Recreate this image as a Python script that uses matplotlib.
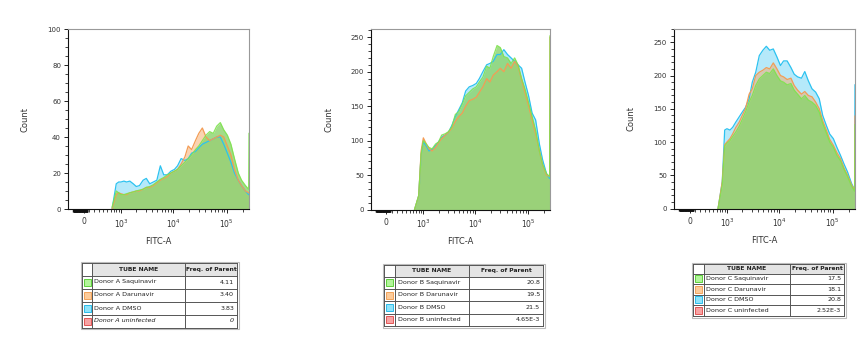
import numpy as np
import matplotlib
matplotlib.use("Agg")
import matplotlib.pyplot as plt
from matplotlib.patches import Rectangle
from matplotlib.ticker import FixedLocator, NullFormatter, MultipleLocator

plt.rcParams['font.family'] = ['DejaVu Sans']

# ---------------- data ----------------
x_fitc = [650, 800, 900, 1000, 1150, 1300, 1500, 1750, 2000, 2300, 2700, 3100, 3600, 4200,
          4900, 5700, 6600, 7700, 9000, 10500, 12000, 14000, 16500, 19000, 22000, 26000,
          30000, 35000, 41000, 48000, 56000, 65000, 76000, 88000, 103000, 120000, 140000,
          165000, 190000, 225000, 258000, 262143]

a_saq = [1, 10, 9, 8, 8, 8.5, 9, 9.5, 10, 10.5, 11, 12, 12.5, 13.5, 15, 16.5, 17.5, 19, 20, 21,
         22, 24, 26, 28, 30, 33, 35, 38, 41, 43, 42, 46, 48, 44, 41, 36, 28, 20, 16, 13, 11, 42]
a_dmso = [0, 14, 15, 15, 15.5, 15, 15.5, 14, 12.5, 13, 16, 17, 14, 15, 16, 24, 19, 19, 21, 22,
          24, 28, 27, 28, 31, 32, 34, 36, 37, 38, 39, 40, 40, 36, 31, 26, 20, 16, 13, 10, 8, 8]
a_daru = [0, 8, 9, 8.5, 8, 8, 9, 9.5, 10, 10, 11, 12, 12, 13, 14.5, 16, 17, 18, 20, 21,
          22, 25, 29, 35, 33, 38, 42, 45, 40, 38, 39, 40, 41, 40, 35, 30, 22, 16, 13, 10, 9, 9]

b_saq = [0, 20, 80, 100, 95, 90, 88, 95, 98, 108, 110, 113, 120, 138, 142, 153, 165, 170, 175, 178,
         185, 192, 208, 205, 222, 238, 235, 222, 220, 212, 220, 210, 190, 175, 155, 135, 115, 85, 65, 52, 48, 252]
b_dmso = [0, 20, 80, 98, 92, 85, 87, 93, 98, 105, 108, 112, 122, 135, 145, 155, 172, 178, 180, 183,
          190, 200, 210, 212, 215, 225, 225, 232, 225, 220, 215, 210, 205, 185, 165, 140, 130, 95, 72, 52, 45, 45]
b_daru = [0, 20, 85, 104, 95, 88, 85, 90, 97, 103, 108, 112, 118, 128, 135, 140, 150, 158, 160, 163,
          170, 178, 190, 185, 195, 200, 205, 200, 212, 205, 215, 208, 188, 170, 150, 130, 110, 85, 65, 50, 48, 250]

c_saq = [0, 35, 94, 98, 102, 108, 115, 124, 134, 145, 160, 170, 185, 195, 200, 205, 203, 210, 200, 192,
         190, 186, 188, 178, 172, 165, 170, 163, 160, 155, 145, 128, 114, 100, 92, 80, 72, 58, 48, 34, 26, 126]
c_dmso = [0, 40, 118, 120, 118, 122, 130, 138, 145, 152, 165, 190, 205, 230, 238, 244, 238, 240, 228, 215,
          222, 222, 212, 202, 198, 196, 206, 192, 180, 175, 165, 140, 125, 112, 105, 92, 80, 66, 55, 38, 28, 186]
c_daru = [0, 40, 96, 100, 105, 112, 122, 130, 140, 150, 172, 180, 200, 205, 208, 212, 210, 219, 210, 200,
          198, 194, 196, 185, 178, 172, 176, 170, 168, 160, 150, 132, 118, 104, 95, 84, 75, 60, 50, 36, 28, 139]

y_max = [100, 262, 270]
y_major = [20, 50, 50]
y_minor = [5, 10, 10]

tube_names = [
    ["Donor A Saquinavir", "Donor A Darunavir", "Donor A DMSO", "Donor A uninfected"],
    ["Donor B Saquinavir", "Donor B Darunavir", "Donor B DMSO", "Donor B uninfected"],
    ["Donor C Saquinavir", "Donor C Darunavir", "Donor C DMSO", "Donor C uninfected"],
]
freq_parent = [
    ["4.11", "3.40", "3.83", "0"],
    ["20.8", "19.5", "21.5", "4.65E-3"],
    ["17.5", "18.1", "20.8", "2.52E-3"],
]

panels = [(a_dmso, a_daru, a_saq), (b_dmso, b_daru, b_saq), (c_dmso, c_daru, c_saq)]

# ---------------- styles ----------------
W, H = 858, 340
fig = plt.figure(figsize=(W / 100, H / 100), dpi=100)

axes_px = [(68, 29, 249, 209), (371, 29, 550, 209.5), (674, 29, 855, 208.5)]

C = 415.0
def fwd(x):
    return np.arcsinh(np.asarray(x, dtype=float) / C) / np.log(10)
def inv(y):
    return np.sinh(np.asarray(y, dtype=float) * np.log(10)) * C

blue_f, blue_l = '#5ccff5', '#2cc2f0'
orng_f, orng_l = '#f7a965', '#f39c55'
grn_f, grn_l = '#8bd46c', '#7ee34e'

blob_x = list(range(-190, 75, 5))
minor_x = (list(range(100, 1000, 100)) + list(range(2000, 10000, 1000)) +
           list(range(20000, 100000, 10000)) + [200000])

for i, (x0, y0, x1, y1) in enumerate(axes_px):
    ax = fig.add_axes([x0 / W, 1 - y1 / H, (x1 - x0) / W, (y1 - y0) / H])
    ax.set_xscale('function', functions=(fwd, inv))
    ax.set_xlim(-300, 262144)
    ax.set_ylim(0, y_max[i])
    dm, dr, sq = panels[i]
    ax.fill_between(x_fitc, dm, color=blue_f, alpha=0.45, lw=0)
    ax.plot(x_fitc, dm, color=blue_l, lw=0.9)
    ax.fill_between(x_fitc, dr, color=orng_f, alpha=0.5, lw=0)
    ax.plot(x_fitc, dr, color=orng_l, lw=0.9)
    ax.fill_between(x_fitc, sq, color=grn_f, alpha=0.8, lw=0)
    ax.plot(x_fitc, sq, color=grn_l, lw=0.9, alpha=0.9)

    ax.xaxis.set_major_locator(FixedLocator([0, 1000, 10000, 100000]))
    ax.set_xticklabels(['0', r'$10^3$', r'$10^4$', r'$10^5$'])
    ax.xaxis.set_minor_locator(FixedLocator(minor_x))
    ax.xaxis.set_minor_formatter(NullFormatter())
    ax.yaxis.set_major_locator(MultipleLocator(y_major[i]))
    ax.yaxis.set_minor_locator(MultipleLocator(y_minor[i]))

    ax.tick_params(axis='both', which='major', length=3, width=0.7, labelsize=5,
                   colors='#222222', labelcolor='#333333', pad=2)
    ax.tick_params(axis='both', which='minor', length=2, width=0.6, colors='#222222')
    ax.tick_params(axis='x', which='major', labelsize=5.5, pad=3)
    # dense linear-region ticks near zero (drawn as short dark marks under the axis)
    trans = ax.get_xaxis_transform()
    for bx in blob_x:
        ax.plot([bx, bx], [0, -0.015], transform=trans, color='#111111', lw=1.0,
                clip_on=False, solid_capstyle='butt')
    for s in ['left', 'bottom']:
        ax.spines[s].set_color('#111111')
        ax.spines[s].set_linewidth(0.8)
    for s in ['top', 'right']:
        ax.spines[s].set_color('#999999')
        ax.spines[s].set_linewidth(0.8)
    ax.set_ylabel('Count', fontsize=6, color='#333333')
    ax.yaxis.set_label_coords(-38 / (x1 - x0), 0.5)
    ax.set_xlabel('FITC-A', fontsize=6, color='#333333', labelpad=5)

# ---------------- tables ----------------
tax = fig.add_axes([0, 0, 1, 1])
tax.set_xlim(0, W)
tax.set_ylim(H, 0)
tax.axis('off')

tables_px = [
    (82, 92, 185, 237, [263, 275.5, 288.5, 301.5, 314.5, 327.5]),
    (384, 395, 469, 543, [265, 276.5, 289, 301, 313.5, 326]),
    (693, 704, 790, 844, [264, 273.5, 284, 294.5, 305, 316]),
]
sw_fill = ['#b2f59a', '#fccb9a', '#8fe3fa', '#f7a3a3']
sw_edge = ['#5fcf3c', '#f1a25a', '#2bbbe9', '#e25656']
edge = '#555555'

for t, (xa, xb, xc, xd, ys) in enumerate(tables_px):
    tax.add_patch(Rectangle((xb, ys[0]), xd - xb, ys[1] - ys[0], facecolor='#e4e4e4',
                            edgecolor='none'))
    tax.add_patch(Rectangle((xa - 1.5, ys[0] - 1.5), xd - xa + 3, ys[-1] - ys[0] + 3,
                            facecolor='none', edgecolor='#bbbbbb', lw=0.8))
    tax.text((xb + xc) / 2, (ys[0] + ys[1]) / 2, 'TUBE NAME', fontsize=4.3, weight='bold',
             ha='center', va='center', color='#222222')
    tax.text((xc + xd) / 2, (ys[0] + ys[1]) / 2, 'Freq. of Parent', fontsize=4.3, weight='bold',
             ha='center', va='center', color='#222222')
    for r in range(4):
        yt, yb = ys[r + 1], ys[r + 2]
        h = yb - yt
        s = min(h * 0.62, 7)
        cx = (xa + xb) / 2
        tax.add_patch(Rectangle((cx - s / 2, (yt + yb) / 2 - s / 2), s, s,
                                facecolor=sw_fill[r], edgecolor=sw_edge[r], lw=0.7))
        style = 'italic' if (t == 0 and r == 3) else 'normal'
        tax.text(xb + 2.5, (yt + yb) / 2, tube_names[t][r], fontsize=4.6, ha='left',
                 va='center', color='#222222', style=style)
        tax.text(xd - 3, (yt + yb) / 2, freq_parent[t][r], fontsize=4.6, ha='right',
                 va='center', color='#222222', style=style)
    for yy in ys:
        tax.plot([xa, xd], [yy, yy], color=edge, lw=0.7)
    for xx in (xa, xb, xc, xd):
        tax.plot([xx, xx], [ys[0], ys[-1]], color=edge, lw=0.7)

fig.savefig('out.png', dpi=100)
